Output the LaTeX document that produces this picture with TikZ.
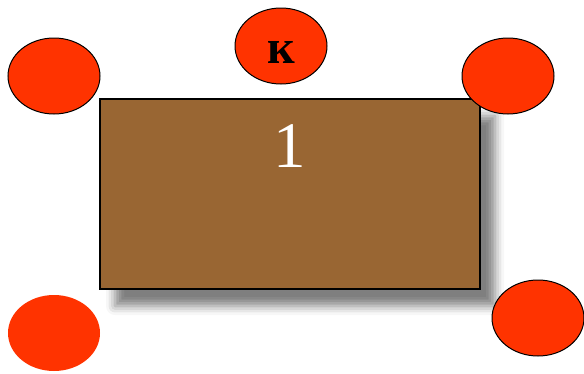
\documentclass[tikz,border=0pt]{standalone}
\usepackage{fontspec}
\newfontfamily\cyrfont{Liberation Serif}
\usepackage{tikz}
\usetikzlibrary{shapes.geometric, shadows.blur, positioning}
\definecolor{tablebrown}{HTML}{996633}
\definecolor{seatred}{HTML}{FF3300}

\begin{document}
\begin{tikzpicture}[x=1pt, y=-1pt,
    seat/.style={ellipse, fill=seatred, inner sep=0pt,
      minimum width=92pt, minimum height=76pt,
      font=\cyrfont\bfseries\fontsize{48}{48}\selectfont,
      text height=35pt, text depth=0pt},
    rim/.style={draw=black, line width=1pt},
    norim/.style={},
    tablebox/.style={draw=black, line width=1.5pt, fill=tablebrown,
      minimum width=380pt, minimum height=190pt,
      blur shadow={shadow xshift=15pt, shadow yshift=-17pt,
        shadow blur radius=9pt, shadow opacity=50}},
    number/.style={text=white, font=\cyrfont\fontsize{65}{65}\selectfont}]
    \useasboundingbox (0,0) rectangle (584,373);
    \node[tablebox] (table) at (290,194) {};
    \node[number, anchor=base] (tablenum) at ([yshift=-69pt]table.north) {1};
    \foreach \Point/\Look/\SeatLabel [count=\i] in {
      (54,76)/rim/,
      (281,46)/rim/к,
      (508,76)/rim/,
      (54,333)/norim/,
      (538,318)/rim/
    }
    \node[seat, \Look] (seat\i) at \Point {\SeatLabel};
  \end{tikzpicture}
\end{document}
